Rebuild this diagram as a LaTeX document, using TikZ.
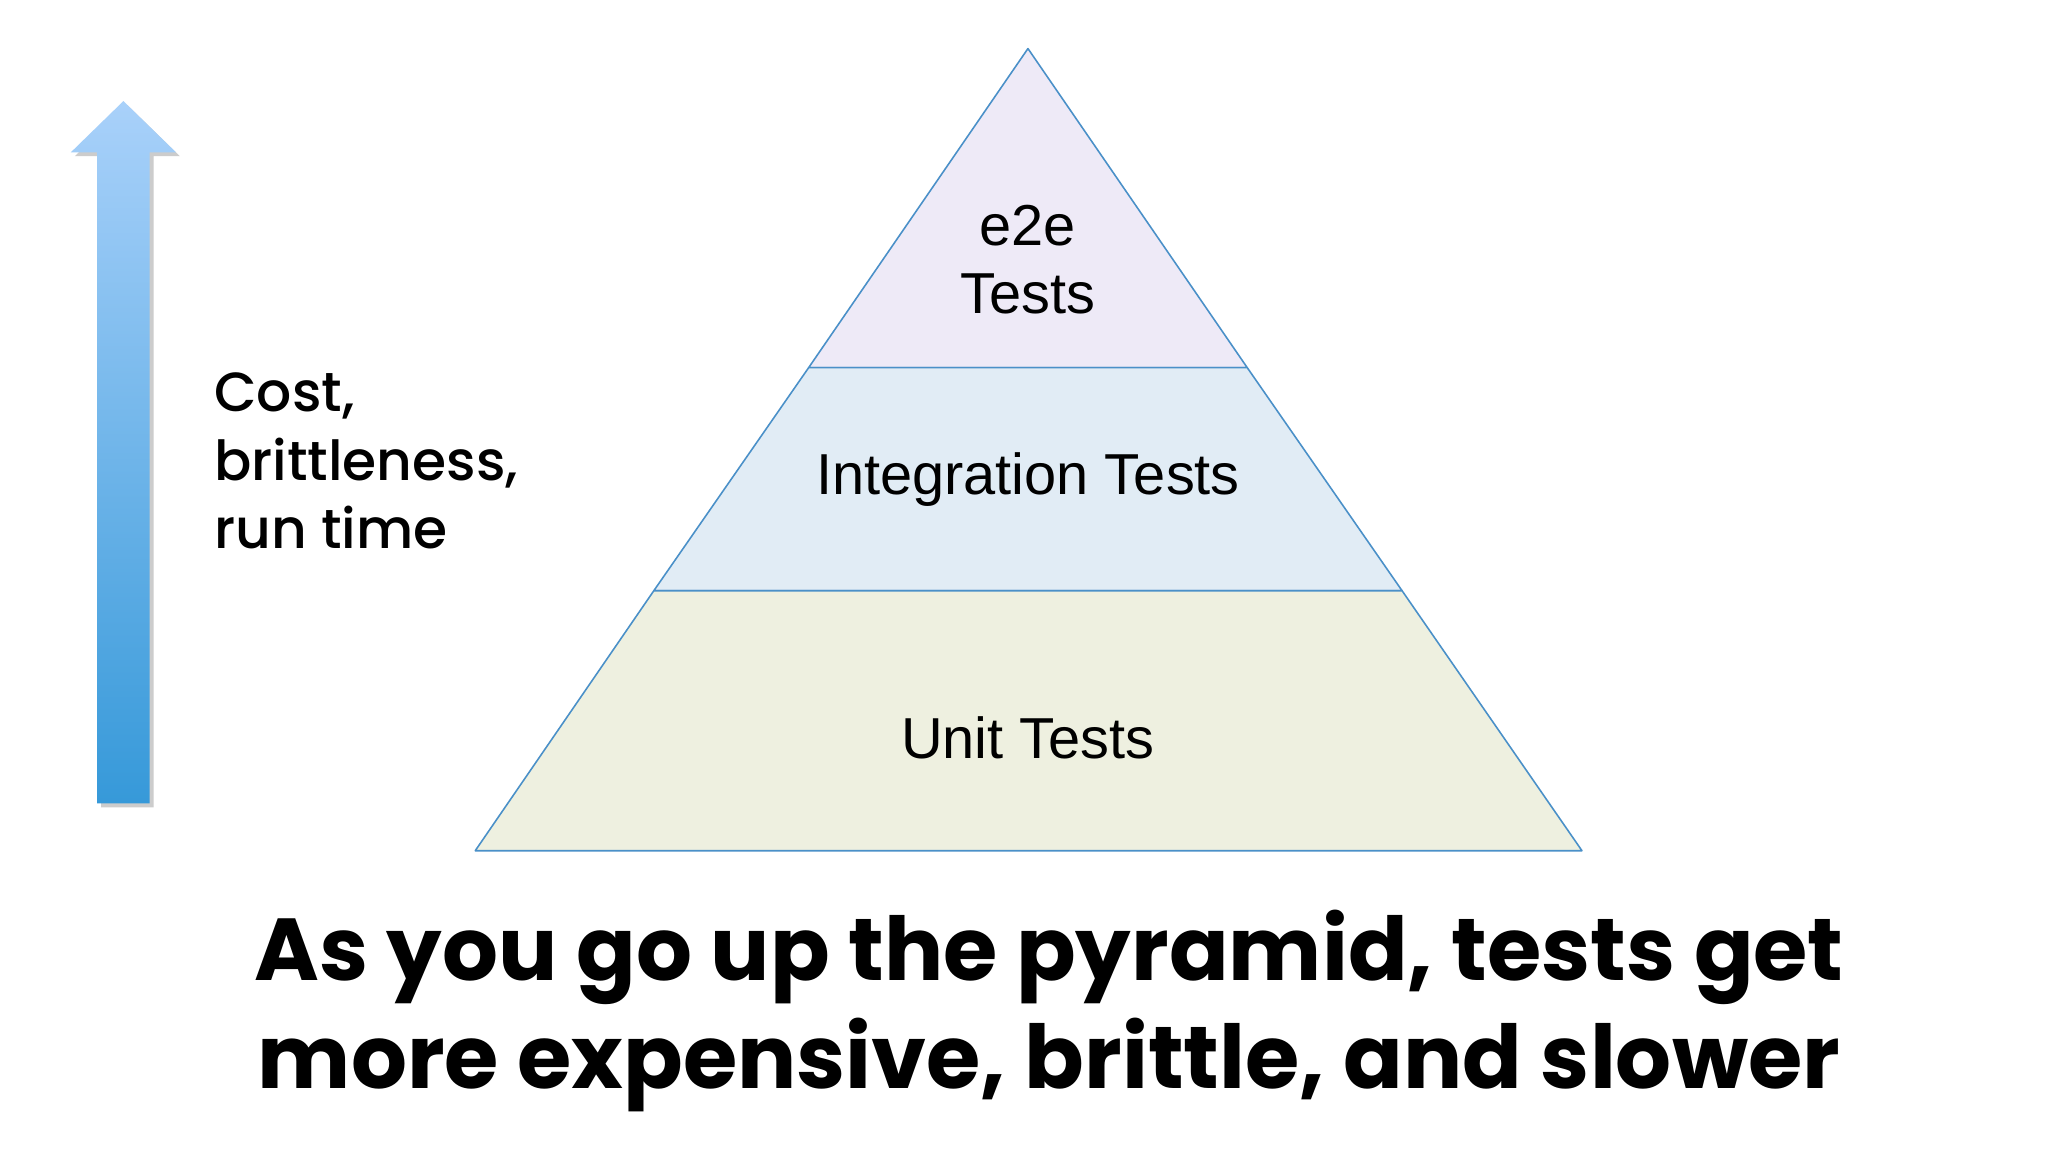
\documentclass[tikz,border=0pt]{standalone}
\usepackage{fontspec}
\setmainfont{Liberation Sans}
\newfontfamily\popp{Poppins}[UprightFont=* Medium]
\newfontfamily\poppb{Poppins}[UprightFont=* Bold]
\definecolor{edge}{HTML}{4A90C8}
\definecolor{topc}{HTML}{EEEAF7}
\definecolor{midc}{HTML}{E1ECF5}
\definecolor{botc}{HTML}{EEF0E0}
\definecolor{arrtop}{HTML}{A9D1FA}
\definecolor{arrbot}{HTML}{3699D9}
\begin{document}
\begin{tikzpicture}[x=1pt,y=-1pt,
  layer/.style={draw=edge,line width=1.2pt,line join=round},
  lbl/.style={font=\fontsize{44}{52}\selectfont,align=center}]
\useasboundingbox (0,0) rectangle (1560,877);
\fill[white] (0,0) rectangle (1560,877);
\coordinate (apex) at (783,37);
\coordinate (l1) at (616,280); \coordinate (r1) at (950,280);
\coordinate (l2) at (498,450); \coordinate (r2) at (1068,450);
\coordinate (bl) at (362,648); \coordinate (br) at (1205,648);
\filldraw[layer,fill=topc] (apex)--(r1)--(l1)--cycle;
\filldraw[layer,fill=midc] (l1)--(r1)--(r2)--(l2)--cycle;
\filldraw[layer,fill=botc] (l2)--(r2)--(br)--(bl)--cycle;
\node[lbl] (e2e) at (783,198) {e2e\\Tests};
\node[lbl] (integ) at (783,365) {Integration Tests};
\node[lbl] (unit) at (783,562) {Unit Tests};
% arrow
\fill[gray!40] (77,615)--(117,615)--(117,119)--(137,119)--(97,80)--(57,119)--(77,119)--cycle;
\shade[top color=arrtop,bottom color=arrbot] (74,612)--(114,612)--(114,116)--(134,116)--(94,77)--(54,116)--(74,116)--cycle;
\node[font=\popp\fontsize{42}{52}\selectfont,align=left,anchor=north west,inner sep=0pt] (cost) at (163,284) {Cost,\\brittleness,\\run time};
\node[font=\poppb\fontsize{67}{82}\selectfont,align=center] (cap) at (799,770) {As you go up the pyramid, tests get\\more expensive, brittle, and slower};
\end{tikzpicture}
\end{document}
